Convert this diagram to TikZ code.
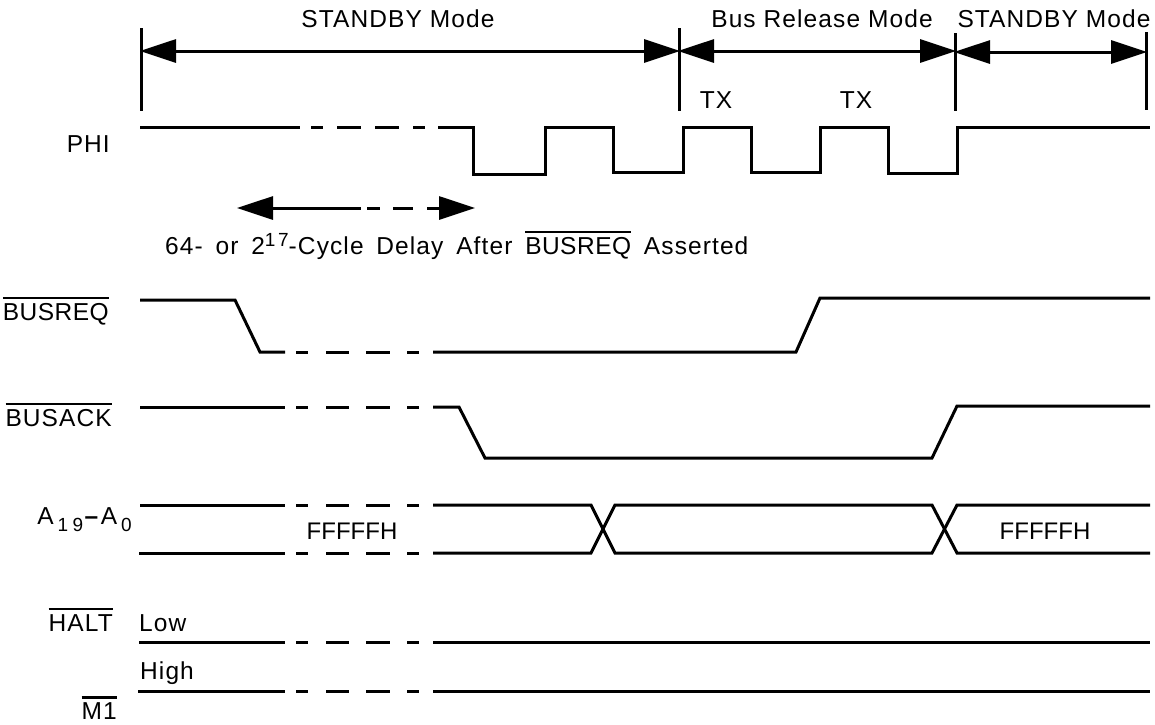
\documentclass[tikz,border=0pt]{standalone}
\usepackage{fontspec}
\setmainfont[LetterSpace=4.5]{Liberation Sans}
\usetikzlibrary{arrows.meta}
\newcommand{\barred}[1]{\leavevmode\setbox0\hbox{#1}\rlap{\raisebox{21pt}{\rule{\wd0}{2.5pt}}}\box0}
\newcommand{\busreq}{\barred{\addfontfeature{LetterSpace=2}BUSREQ}}
\newcommand{\lowidx}[1]{\hspace{4pt}\raisebox{-7pt}{\fontsize{19}{19}\selectfont\addfontfeature{LetterSpace=23}#1}}
\newcommand{\highidx}[1]{\raisebox{8pt}{\fontsize{19}{19}\selectfont\addfontfeature{LetterSpace=14}#1}}
\tikzset{
	wave/.style={line width=3pt, line join=miter},
	span/.style={line width=3pt, {Triangle[length=36pt,width=23pt]}-{Triangle[length=36pt,width=23pt]}, shorten <=-1pt, shorten >=-1pt},
	brk/.style={line width=3pt, dash pattern=on 0pt off 11pt on 12pt off 18pt on 23pt off 17pt on 24pt off 17pt on 12pt off 14pt},
	brkphi/.style={line width=3pt, dash pattern=on 0pt off 11pt on 12pt off 14pt on 24pt off 14pt on 24pt off 14pt on 12pt off 13pt},
	lbl/.style={inner sep=0pt, font=\fontsize{24.5}{29}\selectfont},
	hexval/.style={inner sep=0pt, font=\fontsize{24}{29}\selectfont\addfontfeature{LetterSpace=0}}
}
\begin{document}
\begin{tikzpicture}[x=1pt, y=-1pt]
			\useasboundingbox (0, 0) rectangle (1155, 724);
			
			\coordinate (m0) at (141, 51);
			\coordinate (m1) at (679, 51);
			\coordinate (m2) at (955, 51);
			\coordinate (m3) at (955, 52);
			\coordinate (m4) at (1146, 52);
			\draw[wave] (141, 28) -- (141, 111);
			\draw[wave] (679, 28) -- (679, 111);
			\draw[wave] (955, 33) -- (955, 111);
			\draw[wave] (1146, 32) -- (1146, 110);
			\draw[span] (m0) -- (m1);
			\draw[span] (m1) -- (m2);
			\draw[span] (m3) -- (m4);
			\node[lbl, anchor=base] (stby1) at (398, 27) {STANDBY Mode};
			\node[lbl, anchor=base] (release) at (822, 27) {Bus Release Mode};
			\node[lbl, anchor=base] (stby2) at (1054, 27) {STANDBY Mode};
			\node[lbl, anchor=base] (tx1) at (716, 108) {TX};
			\node[lbl, anchor=base] (tx2) at (856, 108) {TX};
			
			\node[lbl, anchor=base east] (phi) at (110, 152) {PHI};
			\draw[wave] (140, 127) -- (300, 127);
			\draw[brkphi] (300, 127) -- (438, 127);
			\draw[wave] (438, 127) -- (473, 127) -- (473, 174) -- (545, 174) -- (545, 127) -- (613, 127) -- (613, 172) -- (683, 172) -- (683, 127) -- (751, 127) -- (751, 172) -- (820, 172) -- (820, 127) -- (888, 127) -- (888, 173) -- (957, 173) -- (957, 127) -- (1150, 127);
			
			\coordinate (d0) at (238, 208);
			\coordinate (d1) at (361, 208);
			\coordinate (d2) at (438, 208);
			\coordinate (d3) at (474, 208);
			\draw[wave, -] (275, 208) -- (d1);
			\draw[wave, dash pattern=on 0pt off 6pt on 13pt off 13pt on 20pt off 14pt on 11pt] (d1) -- (d2);
			\draw[wave, {Triangle[length=36pt,width=23pt]}-, shorten <=-1pt] (d0) -- (275, 208);
			\draw[wave, -{Triangle[length=36pt,width=23pt]}, shorten >=-1pt] (d2) -- (d3);
			\node[lbl, anchor=base west] (delay) at (165, 254) {\spaceskip=12.8pt 64- or 2\highidx{17}-Cycle Delay After \busreq{} Asserted};
			
			\node[lbl, anchor=base east] (busreq) at (109, 320) {\busreq};
			\draw[wave] (140, 300) -- (235, 300) -- (260, 352) -- (285, 352);
			\draw[brk] (285, 352) -- (433, 352);
			\draw[wave] (433, 352) -- (796, 352) -- (820, 298) -- (1150, 298);
			
			\node[lbl, anchor=base east] (busack) at (112, 426) {\barred{BUSACK}};
			\draw[wave] (140, 407) -- (285, 407);
			\draw[brk] (285, 407) -- (433, 407);
			\draw[wave] (433, 407) -- (459, 407) -- (485, 458) -- (932, 458) -- (957, 406) -- (1150, 406);
			
			\node[lbl, anchor=base east] (addr) at (132, 524) {A\lowidx{19}\hspace{1.5pt}\textbf{--}\hspace{1.5pt}A\lowidx{0}};
			\draw[wave] (140, 505) -- (285, 505);
			\draw[wave] (139, 553) -- (285, 553);
			\draw[brk] (285, 505) -- (433, 505);
			\draw[brk] (285, 553) -- (433, 553);
			\draw[wave] (433, 505) -- (591, 505) -- (615, 553) -- (932, 553) -- (957, 505) -- (1150, 505);
			\draw[wave] (433, 553) -- (591, 553) -- (615, 505) -- (932, 505) -- (957, 553) -- (1150, 553);
			\node[hexval, anchor=base] (ff1) at (352, 539) {FFFFFH};
			\node[hexval, anchor=base] (ff2) at (1045, 539) {FFFFFH};
			
			\node[lbl, anchor=base east] (halt) at (113, 631) {\barred{HALT}};
			\node[lbl, anchor=base west] (low) at (139, 631) {Low};
			\draw[wave] (139, 642) -- (285, 642);
			\draw[brk] (285, 642) -- (433, 642);
			\draw[wave] (433, 642) -- (1150, 642);
			
			\node[lbl, anchor=base west] (high) at (140, 679.5) {High};
			\draw[wave] (138, 691) -- (285, 691);
			\draw[brk] (285, 691) -- (433, 691);
			\draw[wave] (433, 691) -- (1150, 691);
			\node[lbl, anchor=base east] (mone) at (117, 719.5) {\barred{M1}};
\end{tikzpicture}
\end{document}
